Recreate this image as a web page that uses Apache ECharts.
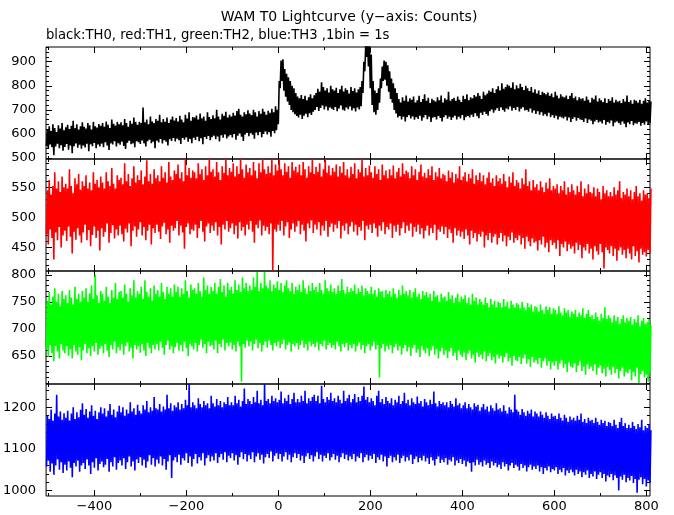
<!DOCTYPE html>
<html>
<head>
<meta charset="utf-8">
<script src="https://cdn.jsdelivr.net/npm/echarts@6/dist/echarts.min.js"></script>
<style>
html,body{margin:0;padding:0;background:#fff;}
#c{width:674px;height:515px;}
</style>
</head>
<body>
<div id="c"></div>
<script>
// ---- data: for each 4-s window, the low and high extent of the 1-s counts ----
const T_START = -504;      // time of the first window (s)
const WINDOW = 4;          // window length (s); low value at window start, high value 2 s later

const TH0_LOW = [
550,538,556,545,512,548,560,541,553,530,
546,558,535,552,520,549,561,543,555,539,
552,544,560,528,557,549,563,541,556,548,
560,545,566,552,533,561,556,570,548,562,
555,568,550,538,564,572,557,561,545,570,
566,558,573,561,548,570,576,562,568,541,
572,565,579,560,574,568,552,578,571,583,
569,580,574,558,583,576,585,568,579,562,
584,575,589,570,582,557,588,579,592,574,
586,593,578,590,569,595,584,598,581,590,
596,585,600,576,593,602,589,571,598,604,
591,603,597,580,606,595,608,586,600,610,
598,607,588,612,603,615,
640,790,820,780,755,735,720,700,690,682,
675,668,680,662,676,684,670,686,679,692,
700,712,695,708,718,702,714,698,710,705,
700,712,694,706,718,701,696,710,703,714,
698,707,693,710,702,
715,770,860,920,880,790,720,690,680,700,
730,790,820,825,800,775,745,730,700,685,
668,675,660,672,652,670,678,664,673,659,
670,662,676,655,668,679,661,672,650,667,
671,660,675,666,652,670,678,663,672,658,
668,676,660,672,664,679,657,670,675,668,
680,671,686,674,665,688,679,692,683,676,
694,702,688,699,707,695,710,700,692,706,
702,714,696,708,700,712,693,705,711,698,
700,692,706,688,698,683,694,680,690,676,
682,674,688,670,678,666,676,660,672,668,
664,672,656,668,650,662,670,655,666,660,
658,650,664,646,660,655,640,652,658,648,
652,644,658,638,650,645,656,632,648,652,
646,638,652,642,628,648,640,654,636,645,
642,650,634,646,638,652,640,645
];
const TH0_HIGH = [
618,632,612,640,625,608,636,622,645,615,
628,638,620,634,655,624,640,618,632,648,
630,622,645,636,618,650,632,627,641,634,
645,630,652,638,625,660,642,635,650,640,
648,636,662,645,630,655,642,668,650,638,
650,645,710,648,660,640,672,652,645,662,
655,680,648,662,650,668,645,660,672,656,
666,652,675,660,648,680,664,690,655,670,
668,676,660,685,665,672,655,690,670,662,
678,665,700,672,660,684,675,692,668,680,
672,688,676,695,705,680,672,690,682,698,
685,678,700,690,672,695,684,705,692,680,
696,688,705,690,715,700,
820,905,910,870,850,835,820,800,790,770,
755,748,762,745,758,740,752,765,748,760,
770,788,775,815,795,780,790,772,800,785,
780,792,770,785,800,776,790,782,768,795,
778,790,772,785,795,
820,900,965,975,970,930,820,780,770,790,
830,880,905,900,885,860,830,810,790,770,
745,730,752,738,760,735,748,742,755,730,
740,758,732,745,765,738,750,728,746,740,
735,752,740,760,730,748,742,775,738,745,
750,738,755,742,732,758,745,765,740,752,
748,762,755,770,758,745,775,760,768,780,
775,790,770,785,798,780,810,788,795,805,
800,792,815,785,802,790,808,795,782,800,
790,778,795,772,785,768,780,762,775,770,
765,772,758,768,752,775,760,748,765,755,
752,760,745,758,770,748,755,740,752,746,
748,738,755,742,730,750,744,760,735,748,
740,732,748,728,745,738,752,730,742,735,
738,728,745,735,760,732,740,725,742,738,
730,742,725,738,748,730,740,735
];

const TH1_LOW = [
472,455,480,466,430,475,462,484,450,470,
478,461,485,468,440,476,463,482,470,458,
475,488,462,479,452,471,485,466,478,445,
482,468,476,490,458,474,487,465,480,470,
486,472,460,481,475,490,452,478,485,468,
480,492,470,484,462,478,488,455,482,474,
488,476,464,485,491,472,480,458,486,478,
482,494,470,486,475,448,484,490,472,480,
478,488,466,482,494,476,460,485,490,474,
486,478,492,470,484,455,488,480,494,476,
482,490,472,486,465,492,478,484,470,488,
480,494,476,458,488,482,495,470,486,478,
484,472,490,412,480,476,
488,478,494,470,485,492,466,480,490,476,
485,494,472,488,478,460,490,482,495,474,
488,480,492,470,486,478,494,468,484,490,
476,488,482,494,465,486,478,490,472,485,
492,476,488,470,484,478,494,462,486,480,
488,474,490,482,468,486,478,492,472,484,
480,490,466,486,476,488,470,482,492,474,
486,478,490,468,484,476,488,472,482,465,
478,486,470,482,474,488,462,480,476,485,
472,484,466,480,474,458,482,470,478,468,
476,464,480,470,455,478,466,474,460,472,
468,476,450,470,462,474,458,468,472,455,
466,474,460,470,452,468,462,475,458,466,
462,470,455,466,448,468,460,452,465,458,
460,445,462,455,468,450,458,442,462,454,
458,448,462,436,456,450,460,444,455,448,
452,440,458,446,454,432,450,445,456,440,
448,430,452,444,438,456,442,415,450,446,
440,452,436,448,428,445,450,438,446,432,
448,440,430,452,436,444,425,448,438,442,
435,446,440
];
const TH1_HIGH = [
545,562,538,552,575,548,560,542,568,550,
556,548,580,552,540,565,555,572,546,560,
552,570,548,558,545,575,556,562,550,568,
558,548,575,560,552,582,556,548,570,562,
566,555,590,560,572,552,565,585,558,570,
562,578,555,568,595,560,572,556,580,565,
570,560,585,566,575,558,592,568,562,578,
572,588,565,575,560,597,570,582,566,578,
575,565,590,572,580,562,585,570,597,576,
580,568,592,575,562,585,574,597,570,582,
576,590,568,585,572,597,580,566,588,575,
582,570,592,578,565,590,575,597,580,572,
585,574,597,570,588,578,
597,580,570,590,576,585,566,592,578,584,
575,588,570,592,580,566,585,575,597,572,
584,576,590,568,580,597,574,586,570,582,
576,588,568,585,574,592,570,580,566,584,
572,590,565,580,575,597,568,582,570,586,
575,566,585,572,580,562,588,570,578,565,
580,570,586,565,576,582,568,590,572,578,
575,565,585,570,580,562,576,588,568,574,
566,580,570,585,562,575,568,582,565,572,
570,560,578,566,575,558,572,565,585,562,
568,575,560,572,565,580,556,570,562,574,
560,570,555,566,575,558,565,552,570,560,
565,556,572,560,550,568,558,575,552,562,
558,548,565,555,580,552,560,545,562,550,
555,545,560,550,542,558,548,565,545,552,
548,555,540,552,545,560,538,550,542,555,
545,538,552,542,560,535,548,540,555,542,
540,550,535,548,542,530,552,540,545,535,
542,535,550,538,545,560,532,542,538,548,
535,545,530,542,552,535,540,528,545,538,
540,532,548
];

const TH2_LOW = [
662,648,670,655,640,668,658,645,672,660,
655,668,650,662,645,670,658,652,666,642,
660,672,655,664,650,668,658,674,652,663,
668,655,672,660,648,670,662,676,655,666,
660,672,652,668,675,658,665,645,670,662,
668,656,672,660,650,674,664,655,670,662,
672,660,676,665,652,670,678,662,668,655,
666,674,660,670,658,676,664,650,672,668,
662,674,658,670,680,665,672,655,676,668,
670,662,678,655,672,666,680,660,674,668,
675,662,670,658,676,668,602,672,665,678,
668,676,660,672,680,664,674,658,670,676,
665,678,670,660,674,668,
676,664,672,680,662,670,675,658,672,668,
674,662,670,678,665,672,660,676,668,672,
666,675,660,672,668,678,662,670,674,665,
670,662,676,668,658,672,666,674,660,670,
664,672,658,668,675,662,670,655,668,672,
660,668,676,662,670,610,664,672,658,668,
662,670,655,666,672,660,668,652,664,670,
658,666,650,664,670,656,662,648,668,660,
655,664,650,660,668,652,662,645,658,664,
652,660,646,658,664,650,656,642,660,652,
648,656,642,654,660,645,652,638,656,648,
652,644,658,640,650,655,642,648,636,652,
645,650,638,648,655,640,646,632,650,642,
640,648,635,645,652,636,644,630,648,638,
642,635,646,628,640,645,632,640,625,638,
632,640,625,636,642,628,635,620,638,630,
628,636,620,632,640,622,630,615,634,626,
630,622,634,615,628,632,618,626,612,630,
624,615,630,618,626,608,622,628,612,620,
618,625,605,620,612,628,600,616,622,610,
615,602,618
];
const TH2_HIGH = [
752,768,745,760,775,750,765,742,770,755,
762,748,772,758,745,778,755,765,750,770,
758,775,750,766,780,755,800,762,748,770,
765,752,778,760,748,772,758,785,755,768,
770,758,782,765,750,775,762,790,758,770,
765,778,755,790,768,760,775,752,780,765,
772,760,785,768,755,778,765,775,760,782,
768,778,760,775,765,790,770,758,782,772,
775,765,785,770,760,795,772,780,765,778,
770,785,765,778,792,768,780,760,785,772,
778,765,790,772,782,768,795,775,785,770,
780,772,795,778,805,770,785,775,805,780,
775,790,770,782,776,788,
772,785,768,780,790,775,770,785,765,778,
772,782,768,790,775,765,780,770,785,772,
778,768,785,772,765,790,775,770,782,768,
775,765,780,770,792,772,765,778,768,775,
770,782,765,775,768,780,762,775,770,765,
778,765,772,760,775,768,770,758,772,765,
770,760,775,765,758,772,762,780,765,770,
762,772,758,768,775,760,765,755,770,762,
768,758,765,752,770,760,762,750,765,758,
760,752,768,755,762,748,758,765,750,760,
755,762,748,758,745,765,752,758,745,755,
750,745,758,748,740,755,745,752,740,750,
748,740,755,742,750,738,752,745,740,748,
745,738,750,740,735,748,740,745,732,742,
740,732,745,735,728,742,735,740,728,738,
735,728,742,730,725,738,730,735,722,732,
728,735,722,730,725,738,720,728,735,722,
725,718,730,722,715,728,720,740,718,725,
720,712,725,715,722,710,718,725,712,720,
715,722,708,718,712,725,705,715,720,710,
712,718,706
];

const TH3_LOW = [
1058,1072,1045,1065,1038,1060,1075,1050,1068,1042,
1062,1048,1070,1055,1032,1066,1058,1072,1045,1060,
1066,1052,1075,1060,1040,1068,1055,1078,1048,1064,
1070,1056,1062,1076,1045,1068,1058,1080,1050,1066,
1072,1060,1078,1052,1068,1082,1058,1070,1048,1075,
1066,1080,1060,1074,1055,1070,1085,1062,1078,1058,
1074,1065,1082,1060,1076,1050,1070,1085,1030,1072,
1080,1068,1086,1062,1078,1072,1090,1066,1082,1058,
1076,1088,1065,1080,1072,1090,1060,1078,1085,1070,
1082,1072,1090,1066,1080,1088,1074,1092,1068,1084,
1078,1090,1072,1085,1062,1080,1092,1075,1088,1070,
1085,1076,1092,1068,1082,1090,1074,1086,1065,1080,
1088,1078,1094,1070,1084,1090,
1076,1088,1070,1082,1092,1074,1086,1068,1080,1090,
1078,1088,1072,1084,1066,1082,1090,1076,1085,1070,
1082,1092,1076,1086,1070,1084,1078,1090,1072,1080,
1088,1074,1084,1068,1080,1090,1076,1086,1072,1082,
1075,1088,1070,1082,1078,1090,1068,1080,1086,1072,
1084,1076,1088,1066,1080,1074,1086,1070,1082,1058,
1078,1084,1068,1080,1072,1086,1066,1078,1084,1070,
1080,1072,1086,1064,1076,1082,1068,1078,1072,1084,
1070,1078,1064,1080,1072,1060,1076,1082,1066,1074,
1068,1078,1062,1074,1070,1080,1060,1072,1066,1076,
1064,1072,1058,1070,1066,1045,1068,1060,1074,1062,
1068,1058,1072,1062,1066,1054,1070,1060,1066,1056,
1062,1052,1068,1058,1064,1048,1060,1066,1054,1062,
1058,1048,1064,1054,1060,1046,1056,1062,1050,1058,
1052,1060,1046,1056,1040,1054,1048,1058,1044,1052,
1048,1056,1040,1050,1044,1054,1036,1048,1042,1050,
1044,1036,1050,1040,1046,1032,1044,1038,1048,1030,
1040,1034,1046,1028,1038,1044,1030,1040,1022,1036,
1032,1040,1025,1036,1030,1000,1034,1026,1038,1020,
1030,1024,1035,1018,1028,995,1026,1032,1015,1028,
1010,1024,1018
];
const TH3_HIGH = [
1180,1172,1195,1168,1185,1230,1178,1190,1170,1186,
1175,1192,1168,1185,1200,1172,1188,1176,1194,1210,
1182,1196,1175,1190,1205,1180,1192,1172,1188,1200,
1185,1198,1178,1192,1208,1182,1195,1176,1190,1204,
1188,1200,1180,1195,1185,1212,1190,1198,1182,1206,
1192,1185,1205,1195,1215,1188,1200,1192,1225,1198,
1195,1208,1190,1202,1195,1230,1198,1210,1192,1205,
1200,1212,1195,1208,1198,1218,1205,1256,1200,1212,
1205,1198,1222,1208,1200,1215,1205,1210,1198,1228,
1210,1202,1220,1205,1215,1200,1212,1208,1225,1205,
1212,1205,1228,1210,1218,1202,1215,1245,1208,1220,
1215,1208,1225,1212,1240,1210,1218,1205,1256,1215,
1220,1210,1228,1215,1222,1212,
1218,1238,1210,1222,1215,1230,1208,1220,1235,1212,
1220,1212,1228,1215,1240,1210,1222,1215,1225,1230,
1215,1228,1210,1252,1220,1212,1225,1218,1235,1215,
1222,1212,1228,1218,1210,1240,1215,1222,1230,1212,
1220,1232,1212,1225,1215,1228,1250,1218,1225,1212,
1222,1215,1205,1228,1240,1212,1220,1208,1225,1215,
1210,1222,1205,1218,1212,1228,1208,1215,1235,1210,
1218,1205,1222,1212,1208,1226,1210,1215,1202,1220,
1212,1205,1218,1208,1238,1210,1202,1215,1208,1212,
1205,1212,1200,1215,1208,1202,1222,1205,1210,1198,
1205,1212,1198,1208,1200,1195,1210,1202,1206,1192,
1200,1208,1195,1202,1190,1205,1198,1192,1210,1195,
1198,1190,1205,1192,1185,1200,1195,1188,1230,1195,
1190,1182,1196,1188,1180,1192,1185,1195,1178,1190,
1185,1178,1190,1182,1175,1188,1180,1172,1185,1178,
1180,1172,1185,1175,1168,1182,1175,1165,1178,1170,
1175,1168,1180,1170,1185,1165,1172,1162,1175,1168,
1170,1162,1175,1165,1158,1170,1162,1168,1155,1165,
1162,1155,1170,1158,1150,1165,1175,1155,1162,1150,
1158,1150,1165,1155,1148,1160,1152,1170,1145,1155,
1150,1160,1145
];

const SERIES_NAMES = ['TH0','TH1','TH2','TH3'];
const SERIES_COLORS = ['#000000','#ff0000','#00ff00','#0000ff'];

// x axis
const X_RANGE = [-505, 808];
const X_MAJOR_TICKS = [-400,-200,0,200,400,600,800];
const X_MINOR_TICKS = [-500,-300,-100,100,300,500,700];
const X_LABELS = [-400,-200,0,200,400,600,800];

// y axes per panel
const Y_RANGES = [[496,961],[411,597],[598,807],[987,1256]];
const Y_LABELS = [
  [500,600,700,800,900],
  [450,500,550],
  [650,700,750,800],
  [1000,1100,1200]
];
const Y_MINOR_TICKS = [
  [520,540,560,580,620,640,660,680,720,740,760,780,820,840,860,880,920,940,960],
  [420,430,440,460,470,480,490,510,520,530,540,560,570,580,590],
  [600,610,620,630,640,660,670,680,690,710,720,730,740,760,770,780,790],
  [1000,1020,1040,1060,1080,1120,1140,1160,1180,1220,1240]
];

const TITLE = 'WAM T0 Lightcurve (y\u2212axis: Counts)';
const SUBTITLE = 'black:TH0, red:TH1, green:TH2, blue:TH3 ,1bin = 1s';

// ---- chart ----
const LOWS = [TH0_LOW, TH1_LOW, TH2_LOW, TH3_LOW];
const HIGHS = [TH0_HIGH, TH1_HIGH, TH2_HIGH, TH3_HIGH];
const FONT = 'DejaVu Sans';
const GRID_TOPS = [47, 159, 271, 384];
const GRID_HEIGHTS = [112, 112, 113, 112];

const grids = [], xAxes = [], yAxes = [], series = [];
const fmt = v => String(v).replace('-', '\u2212');

for (let p = 0; p < 4; p++) {
  grids.push({left: 46, width: 604, top: GRID_TOPS[p], height: GRID_HEIGHTS[p],
    show: true, borderColor: '#000', borderWidth: 1, backgroundColor: 'transparent'});
  const xBase = {gridIndex: p, type: 'value', min: X_RANGE[0], max: X_RANGE[1],
    axisLine: {show: false, onZero: false}, splitLine: {show: false}};
  [['bottom', X_MAJOR_TICKS, 6, p === 3], ['bottom', X_MINOR_TICKS, 3, false],
   ['top', X_MAJOR_TICKS, 6, false], ['top', X_MINOR_TICKS, 3, false]].forEach(([pos, ticks, len, lab]) => {
    xAxes.push(Object.assign({}, xBase, {position: pos,
      axisTick: {show: true, inside: true, length: len, customValues: ticks, lineStyle: {color: '#000', width: 1}},
      axisLabel: {show: lab, customValues: X_LABELS, formatter: fmt, color: '#000',
        fontFamily: FONT, fontSize: 13, margin: 4}
    }));
  });
  const yBase = {gridIndex: p, type: 'value', min: Y_RANGES[p][0], max: Y_RANGES[p][1],
    axisLine: {show: false, onZero: false}, splitLine: {show: false}};
  [['left', Y_LABELS[p], 6, true], ['left', Y_MINOR_TICKS[p], 3, false],
   ['right', Y_LABELS[p], 6, false], ['right', Y_MINOR_TICKS[p], 3, false]].forEach(([pos, ticks, len, lab]) => {
    yAxes.push(Object.assign({}, yBase, {position: pos,
      axisTick: {show: true, inside: true, length: len, customValues: ticks, lineStyle: {color: '#000', width: 1}},
      axisLabel: {show: lab, customValues: Y_LABELS[p], formatter: fmt, color: '#000',
        fontFamily: FONT, fontSize: 13, margin: 10}
    }));
  });
  // light curve: within each window the curve runs from the low count to the high count
  const pts = [];
  LOWS[p].forEach((lo, k) => {
    const t = T_START + k * WINDOW;
    pts.push([t, lo]);
    pts.push([t + WINDOW / 2, HIGHS[p][k]]);
  });
  series.push({
    name: SERIES_NAMES[p], type: 'line', xAxisIndex: p * 4, yAxisIndex: p * 4,
    data: pts, showSymbol: false, symbol: 'none', clip: true,
    lineStyle: {color: SERIES_COLORS[p], width: 1.6}, itemStyle: {color: SERIES_COLORS[p]},
    animation: false, silent: true
  });
}

const chart = echarts.init(document.getElementById('c'), null, {renderer: 'canvas'});
chart.setOption({
  animation: false,
  backgroundColor: '#fff',
  grid: grids, xAxis: xAxes, yAxis: yAxes, series: series,
  graphic: [
    {type: 'text', x: 349, y: 17,
      style: {text: TITLE, fill: '#000', font: '14px "' + FONT + '"', textAlign: 'center', textVerticalAlign: 'middle'}},
    {type: 'text', x: 46, y: 36,
      style: {text: SUBTITLE, fill: '#000', font: '13.2px "' + FONT + '"', textAlign: 'left', textVerticalAlign: 'middle'}}
  ]
});
</script>
</body>
</html>
